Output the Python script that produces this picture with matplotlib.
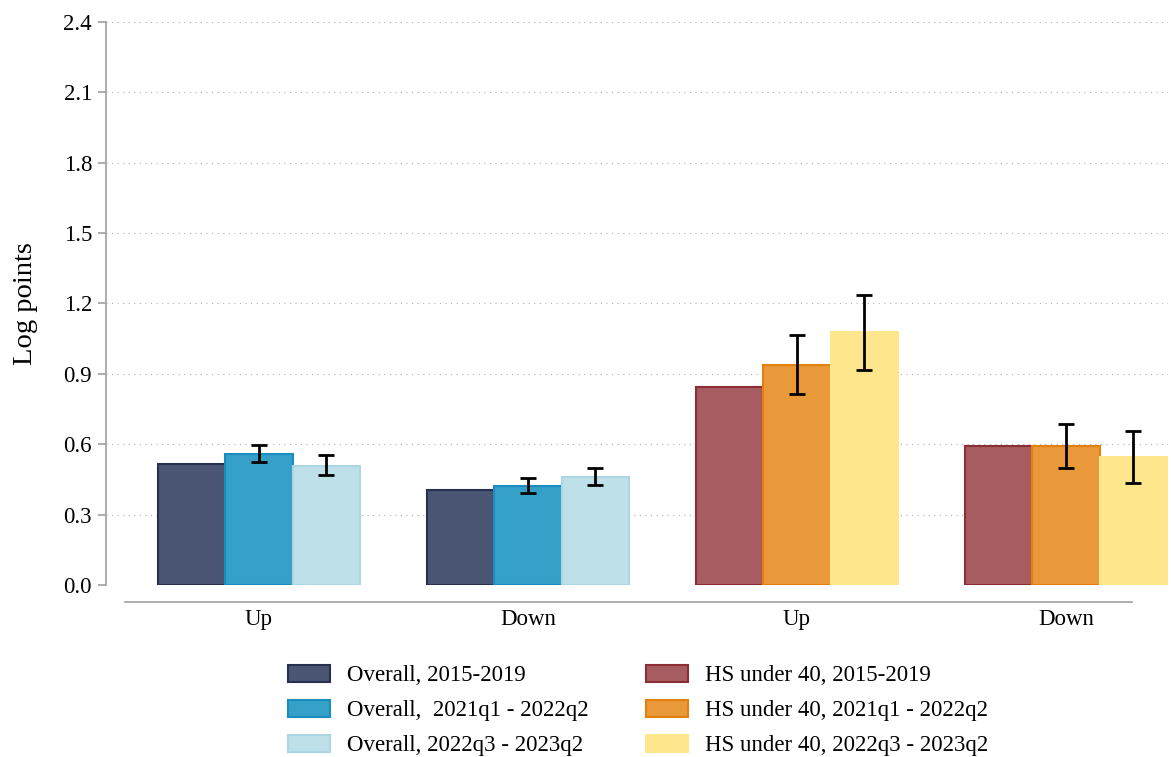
import matplotlib.pyplot as plt
import numpy as np

plt.rcParams['font.family'] = ['Liberation Serif', 'DejaVu Serif']

groups = ['Up', 'Down', 'Up', 'Down']

# series values per group (Overall in groups 0,1 ; HS under 40 in groups 2,3)
overall_labels = ['Overall, 2015-2019', 'Overall,  2021q1 - 2022q2', 'Overall, 2022q3 - 2023q2']
hs_labels = ['HS under 40, 2015-2019', 'HS under 40, 2021q1 - 2022q2', 'HS under 40, 2022q3 - 2023q2']

overall_vals = [[0.515, 0.403], [0.558, 0.422], [0.509, 0.460]]
overall_lo = [[None, None], [0.524, 0.392], [0.469, 0.426]]
overall_hi = [[None, None], [0.598, 0.454], [0.554, 0.500]]

hs_vals = [[0.843, 0.594], [0.936, 0.591], [1.077, 0.545]]
hs_lo = [[None, None], [0.815, 0.497], [0.915, 0.435]]
hs_hi = [[None, None], [1.064, 0.688], [1.238, 0.656]]

overall_fill = ['#4b5675', '#35a0c8', '#bde0e9']
overall_edge = ['#27314f', '#1a8cbf', '#acd6e4']
hs_fill = ['#a65c60', '#e9983a', '#fde68c']
hs_edge = ['#8b2e35', '#e3800e', '#fde68c']

fig = plt.figure(figsize=(11.71, 7.57), dpi=100)
ax = fig.add_axes([0.0905, 0.2272, 0.9069, 0.7438])

width = 0.25
offsets = [-0.25, 0.0, 0.25]
handles = []

def draw(series_vals, lo, hi, fills, edges, labels, xs):
    hs = []
    for i in range(3):
        x = np.array(xs) + offsets[i]
        b = ax.bar(x, series_vals[i], width, color=fills[i], edgecolor=edges[i],
                   linewidth=1.5, label=labels[i], zorder=2)
        hs.append(b)
        for j, xx in enumerate(x):
            if lo[i][j] is not None:
                ax.errorbar(xx, series_vals[i][j],
                            yerr=[[series_vals[i][j] - lo[i][j]], [hi[i][j] - series_vals[i][j]]],
                            fmt='none', ecolor='black', elinewidth=2, capsize=5.5,
                            capthick=2, zorder=3)
    return hs

handles += draw(overall_vals, overall_lo, overall_hi, overall_fill, overall_edge, overall_labels, [0, 1])
handles += draw(hs_vals, hs_lo, hs_hi, hs_fill, hs_edge, hs_labels, [2, 3])

ax.set_ylim(0, 2.4)
ax.set_xlim(-0.569, 3.379)
ax.set_yticks(np.arange(0, 2.41, 0.3))
ax.set_yticklabels([f'{v:.1f}' for v in np.arange(0, 2.41, 0.3)])
ax.yaxis.grid(True, linestyle=(0, (1, 4)), color='#b0b0b0', linewidth=0.8, zorder=0)
ax.set_axisbelow(True)

ax.set_xticks(range(4))
ax.set_xticklabels(groups)
ax.tick_params(axis='x', length=0, pad=5, labelsize=16.5)
ax.tick_params(axis='y', length=6, color='#a0a0a0', width=1.2, labelsize=16.5, pad=4)

for s in ['top', 'right']:
    ax.spines[s].set_visible(False)
ax.spines['left'].set_color('#a0a0a0')
ax.spines['left'].set_linewidth(1.2)
ax.spines['bottom'].set_color('#a0a0a0')
ax.spines['bottom'].set_linewidth(1.2)
ax.spines['bottom'].set_position(('outward', 12.5))
ax.spines['bottom'].set_bounds(-0.498, 3.245)

ax.set_ylabel('Log points', fontsize=20.5, labelpad=18)

fig.legend(handles=handles, loc='upper center', bbox_to_anchor=(0.545, 0.149), ncol=2,
           frameon=False, fontsize=16.5, handlelength=1.83, handleheight=0.75,
           columnspacing=2.5, labelspacing=0.6, handletextpad=0.74)

fig.savefig('out.png', dpi=100)
